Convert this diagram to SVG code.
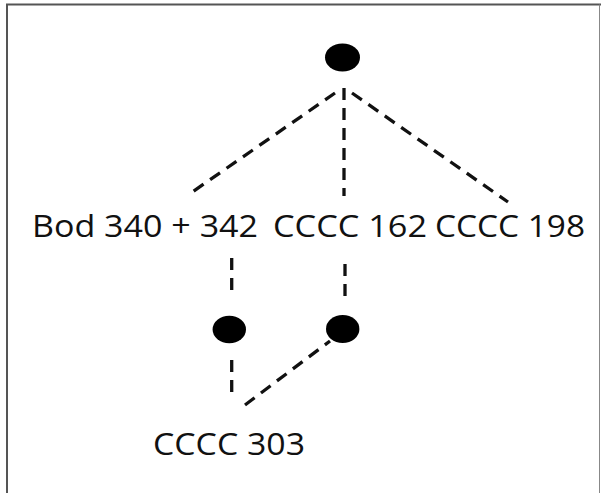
<svg xmlns="http://www.w3.org/2000/svg" width="601" height="493" viewBox="0 0 601 493">
  <style>
    .lbl { font-family: "Open Sans", "Liberation Sans", sans-serif; font-size: 31px; fill: #111; }
    .edge { stroke: #111; stroke-width: 3.3; stroke-dasharray: 12 8; fill: none; }
    .dot { fill: #000; }
  </style>
  <rect width="601" height="493" fill="#fff"/>
  <g id="frame" stroke="#555" stroke-width="2" fill="none">
    <path d="M7,493 V4.5 H601"/>
    <path d="M599.5,4.5 V493" stroke="#888" stroke-width="1"/>
  </g>
  <g id="connectors">
    <path class="edge" d="M335,93 L188,195"/>
    <path class="edge" d="M344,88 V196"/>
    <path class="edge" d="M352,93 L508,202"/>
    <path class="edge" d="M231.7,258 V298"/>
    <path class="edge" d="M345,264 V304"/>
    <path class="edge" d="M231.7,360 V398"/>
    <path class="edge" d="M245,405 L330,341"/>
  </g>
  <g id="n-top"><ellipse class="dot" cx="342.5" cy="57.5" rx="17.5" ry="14"/></g>
  <g id="n-bod"><text class="lbl" x="32" y="237" textLength="226" lengthAdjust="spacingAndGlyphs">Bod 340 + 342</text></g>
  <g id="n-c162"><text class="lbl" x="273" y="237" textLength="154" lengthAdjust="spacingAndGlyphs">CCCC 162</text></g>
  <g id="n-c198"><text class="lbl" x="435" y="237" textLength="150" lengthAdjust="spacingAndGlyphs">CCCC 198</text></g>
  <g id="n-left"><ellipse class="dot" cx="229.3" cy="329.5" rx="16.7" ry="13.7"/></g>
  <g id="n-right"><ellipse class="dot" cx="342.7" cy="329" rx="16.7" ry="14"/></g>
  <g id="n-c303"><text class="lbl" x="153" y="455" textLength="152" lengthAdjust="spacingAndGlyphs">CCCC 303</text></g>
</svg>
